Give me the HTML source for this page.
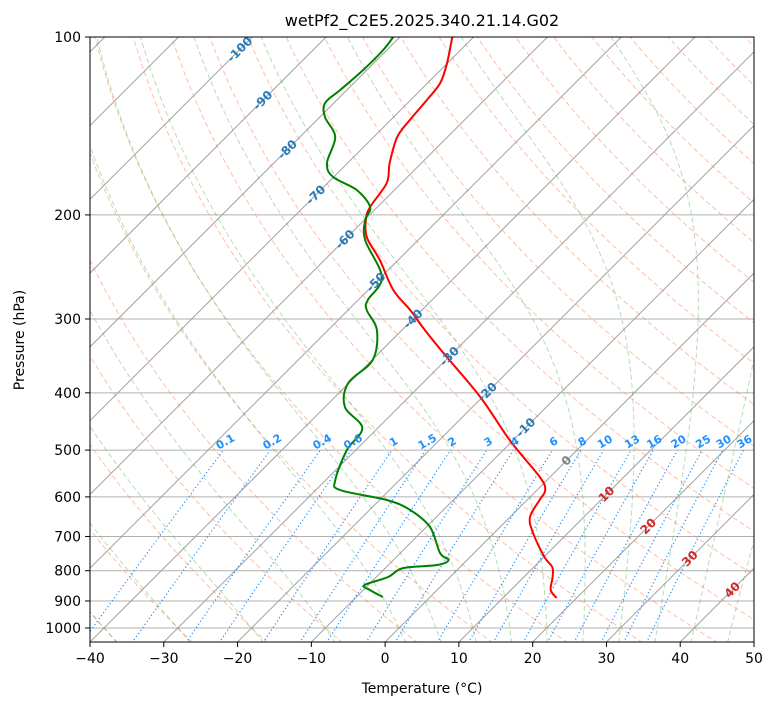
<!DOCTYPE html>
<html><head><meta charset="utf-8"><style>
body{margin:0;background:#fff;}
svg text{font-family:"DejaVu Sans","Liberation Sans",sans-serif;}
</style></head><body>
<svg id="c" width="775" height="708" xmlns="http://www.w3.org/2000/svg">
<defs><clipPath id="pc"><rect x="90" y="37" width="664" height="605"/></clipPath></defs>
<rect width="775" height="708" fill="#fff"/>
<text x="422" y="26" font-size="16" text-anchor="middle">wetPf2_C2E5.2025.340.21.14.G02</text>
<g id="bg" clip-path="url(#pc)"></g>
<g id="tr" clip-path="url(#pc)"></g>
<g id="lb"></g>
<rect x="90" y="37" width="664" height="605" fill="none" stroke="#000" stroke-width="1"/>
<g id="ax"></g>
<text x="422" y="693" font-size="14" text-anchor="middle">Temperature (°C)</text>
<text x="24" y="340" font-size="14" text-anchor="middle" transform="rotate(-90 24 340)">Pressure (hPa)</text>
</svg>
<script>
const tempP=[100,110.6,119.6,127.8,138.2,147.7,163.4,176.6,193.9,204,218.8,238.4,268,289.7,313.2,342.4,406.6,480.8,555.3,584.2,607.4,649.1,690.9,758.6,788.7,819.9,862.5,889.8];
const tempT=[-72.9,-70.1,-68.3,-67.8,-67.4,-66.8,-64.3,-62.0,-61.0,-59.8,-57.2,-52.5,-46.6,-41.6,-36.9,-31.3,-20.3,-10.5,-1.4,1.1,1.7,2.7,5.3,10.1,12.5,13.9,15.4,17.3];
const dewP=[100,105.2,113.7,122.9,129.3,136.6,147.7,163.4,172.5,181.5,193.9,204,220.5,254.8,278.6,289.7,313.2,352,385,422.7,458.7,499.9,561.9,584.2,607.4,631.4,674.8,746.8,767.4,782.5,791.8,819.9,845.9,862.5,886.3];
const dewT=[-80.9,-80.5,-80.5,-80.9,-81.2,-79.3,-75.2,-72.8,-70.1,-65.1,-61.0,-59.9,-57.2,-49.9,-48.7,-47.5,-43.4,-39.9,-40.1,-37.3,-32.1,-31.2,-28.7,-26.7,-19.0,-14.5,-9.5,-4.6,-2.5,-3.4,-7.6,-8.4,-10.5,-9.1,-6.4];
const xTicks=[-40,-30,-20,-10,0,10,20,30,40,50];
const pTicks=[100,200,300,400,500,600,700,800,900,1000];
const isoLabelT=[-100,-90,-80,-70,-60,-50,-40,-30,-20,-10,0,10,20,30,40];
const isoLabelP=[105,128,155,185,220,260,300,347,399,458,521,594,673,763,862];
const mixW=[0.1,0.2,0.4,0.6,1,1.5,2,3,4,6,8,10,13,16,20,25,30,36];

const X0=90,PX=664/90,YB=642,Y0=37,DEC=591;
function yP(p){return Y0+DEC*Math.log10(p/100);}
function xTP(t,p){return X0+(t+40)*PX+(YB-yP(p));}
const NS='http://www.w3.org/2000/svg';
function mk(tag,attrs,parent){const e=document.createElementNS(NS,tag);for(const k in attrs)e.setAttribute(k,attrs[k]);parent.appendChild(e);return e;}
const bg=document.getElementById('bg'),tr=document.getElementById('tr'),lb=document.getElementById('lb'),ax=document.getElementById('ax');
function pathPts(pts){return pts.map((q,i)=>(i?'L':'M')+q[0].toFixed(1)+' '+q[1].toFixed(1)).join('');}
function smooth(pts){let d='M'+pts[0][0].toFixed(1)+' '+pts[0][1].toFixed(1);
for(let i=0;i<pts.length-1;i++){const p0=pts[Math.max(i-1,0)],p1=pts[i],p2=pts[i+1],p3=pts[Math.min(i+2,pts.length-1)];
const c1=[p1[0]+(p2[0]-p0[0])/6,p1[1]+(p2[1]-p0[1])/6],c2=[p2[0]-(p3[0]-p1[0])/6,p2[1]-(p3[1]-p1[1])/6];
d+='C'+c1[0].toFixed(1)+' '+c1[1].toFixed(1)+' '+c2[0].toFixed(1)+' '+c2[1].toFixed(1)+' '+p2[0].toFixed(1)+' '+p2[1].toFixed(1);}
return d;}
const pres=[];for(let p=1060;p>=98;p-=4)pres.push(p);
pTicks.forEach(p=>{const l=mk('line',{x1:90,x2:754,y1:yP(p),y2:yP(p),stroke:'#b0b0b0','stroke-width':1},bg);

});
for(let t=-200;t<=50;t+=10){const l=mk('line',{x1:xTP(t,1056),y1:yP(1056),x2:xTP(t,95),y2:yP(95),stroke:'#a0a0a0','stroke-width':1},bg);

}
for(let th=-50;th<=200;th+=10){const pts=pres.map(p=>[xTP((th+273.15)*Math.pow(p/1000,0.2857)-273.15,p),yP(p)]);
const e=mk('path',{d:pathPts(pts),fill:'none',stroke:'#ff7f50','stroke-opacity':0.5,'stroke-width':1,'stroke-dasharray':'5,3'},bg);

}
function es(t){return 6.112*Math.exp(17.67*t/(t+243.5));}
function moist(t0){const pts=[];let T=t0+273.15;let p=1000;
const step=(p,T)=>{const tc=T-273.15;const e=es(tc);const rs=0.622*e/(p-e);const Rd=287.04,Lv=2.501e6,Cp=1005.7;
return (Rd*T+Lv*rs)/(p*(Cp+Lv*Lv*rs*0.622/(Rd*T*T)));};
let T2=T;for(let q=1000;q<1060;q+=2){T2+=step(q,T2)*2;}pts.push([xTP(T2-273.15,1060),yP(1060)]);
for(p=1000;p>=100;p-=2){if(p%4==0||p==1000)pts.push([xTP(T-273.15,p),yP(p)]);T-=step(p,T)*2;}
return pts;}
[-60,-50,-40,-30,-20,-10,0,5,10,15,20,25,30,35,40,45].forEach(t=>{const e=mk('path',{d:pathPts(moist(t)),fill:'none',stroke:'#2ca02c','stroke-opacity':0.35,'stroke-width':1,'stroke-dasharray':'5,3'},bg);

});
function tdW(w,p){const e=w*p/(622+w);const l=Math.log(e/6.112);return 243.5*l/(17.67-l);}
mixW.forEach(w=>{const pts=[];for(let p=1060;p>=500;p-=10)pts.push([xTP(tdW(w,p),p),yP(p)]);
const e=mk('path',{d:pathPts(pts),fill:'none',stroke:'#1e90ff','stroke-width':1.2,'stroke-dasharray':'1.2,2.5'},bg);


const x=xTP(tdW(w,490),490),y=yP(490);
const t=mk('text',{x:x,y:y,'font-size':11,'font-weight':'bold',fill:'#1e90ff','text-anchor':'middle',transform:'rotate(-30 '+x+' '+y+')'},lb);t.textContent=String(w);

});
isoLabelT.forEach((T,i)=>{const p=isoLabelP[i];const x=xTP(T,p),y=yP(p);const col=T<0?'#2a7ab8':(T==0?'#808080':'#d62728');
const t=mk('text',{x:x,y:y+4,'font-size':12,'font-weight':'bold',fill:col,'text-anchor':'middle',transform:'rotate(-45 '+x+' '+y+')'},lb);t.textContent=String(T);

});
function trace(P,T,col,name){const pts=P.map((p,i)=>[xTP(T[i],p),yP(p)]);const e=mk('path',{d:smooth(pts),fill:'none',stroke:col,'stroke-width':2,'stroke-linejoin':'round'},tr);

}
trace(tempP,tempT,'#ff0000','temperature-trace');
trace(dewP,dewT,'#008000','dewpoint-trace');
xTicks.forEach(t=>{const x=X0+(t+40)*PX;mk('line',{x1:x,x2:x,y1:642,y2:647,stroke:'#000'},ax);
const tx=mk('text',{x:x,y:663,'font-size':14,'text-anchor':'middle'},ax);tx.textContent=(t<0?'\u2212'+(-t):String(t));

});
pTicks.forEach(p=>{const y=yP(p);mk('line',{x1:85,x2:90,y1:y,y2:y,stroke:'#000'},ax);
const tx=mk('text',{x:81,y:y+5,'font-size':14,'text-anchor':'end'},ax);tx.textContent=String(p);

});
</script>
</body></html>
